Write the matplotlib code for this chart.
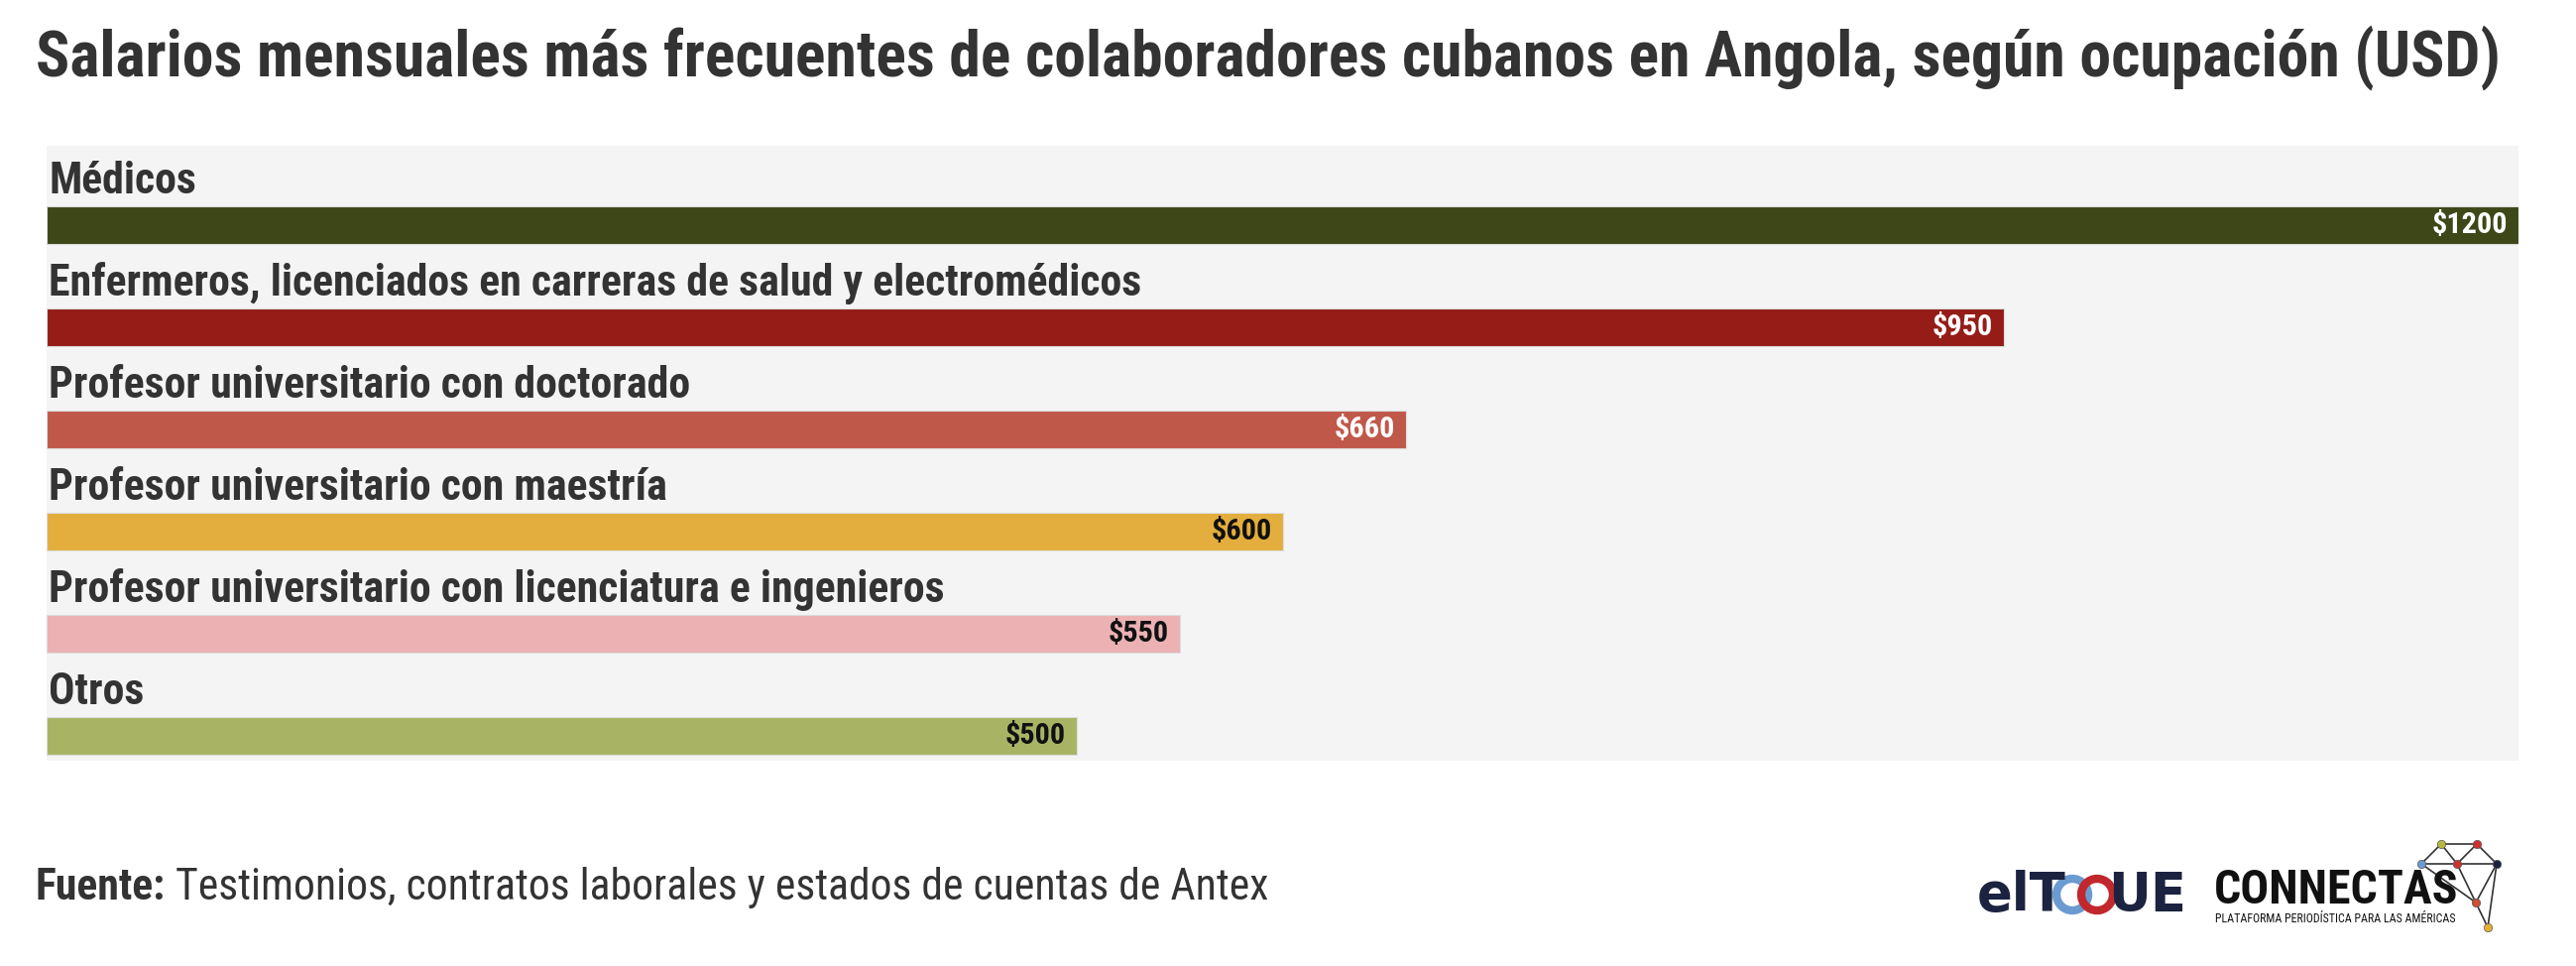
import matplotlib
matplotlib.use("Agg")
import matplotlib.pyplot as plt
from matplotlib import font_manager
from matplotlib.patches import Circle

# pick a condensed family if one is installed
available = {f.name for f in font_manager.fontManager.ttflist}
narrow = "Roboto"
for name in ["Roboto Condensed", "Liberation Sans Narrow", "DejaVu Sans Condensed"]:
    if name in available:
        narrow = name
        break

categories = [
    "Médicos",
    "Enfermeros, licenciados en carreras de salud y electromédicos",
    "Profesor universitario con doctorado",
    "Profesor universitario con maestría",
    "Profesor universitario con licenciatura e ingenieros",
    "Otros",
]
salaries = [1200, 950, 660, 600, 550, 500]
value_labels = ["$1200", "$950", "$660", "$600", "$550", "$500"]
bar_colors = ["#3d4718", "#951c17", "#c0584a", "#e3ae3d", "#ebb1b3", "#a8b464"]
value_colors = ["white", "white", "white", "#111111", "#111111", "#111111"]

title = "Salarios mensuales más frecuentes de colaboradores cubanos en Angola, según ocupación (USD)"
TXT = "#333333"

W, H = 2598, 974
fig = plt.figure(figsize=(W / 100, H / 100), dpi=100)
fig.patch.set_facecolor("white")

fig.text(36 / W, 1 - 58 / H, title, fontsize=45.8, fontweight="bold", family=narrow,
         color=TXT, ha="left", va="center")

ax = fig.add_axes([47 / W, 1 - 767 / H, (2540 - 47) / W, (767 - 147) / H])
ax.set_facecolor("#f4f4f4")
ypos = list(range(len(categories)))
ax.barh(ypos, salaries, height=0.36, color=bar_colors, edgecolor="#dddddd", linewidth=0.8)
for i, (cat, val, lab, vc) in enumerate(zip(categories, salaries, value_labels, value_colors)):
    ax.text(1, i - 0.43, cat, fontsize=31.6, fontweight="bold", family=narrow,
            color=TXT, ha="left", va="center")
    ax.annotate(lab, (val, i), xytext=(-8, 0), textcoords="offset points",
                fontsize=21.8, fontweight="bold", family=narrow, color=vc,
                ha="right", va="center")
ax.set_xlim(0, 1200)
ax.set_ylim(5.243, -0.777)
ax.set_xticks([])
ax.set_yticks([])
for s in ax.spines.values():
    s.set_visible(False)

# footer
src = fig.text(36 / W, 1 - 895 / H, "Fuente:", fontsize=31.5, fontweight="bold", family=narrow,
               color=TXT, ha="left", va="center")
plt.annotate(" Testimonios, contratos laborales y estados de cuentas de Antex",
             xy=(1, 0.5), xycoords=src, fontsize=31.5, family=narrow, color=TXT,
             ha="left", va="center", annotation_clip=False)

# logos (drawn in pixel units)
lg = fig.add_axes([1960 / W, 0, 638 / W, 140 / H])
lg.set_xlim(1960, 2598)
lg.set_ylim(974, 834)
lg.axis("off")
navy = "#1b2340"
lg.text(1994, 903, "elT", fontsize=38, fontweight="bold", family="DejaVu Sans",
        color=navy, ha="left", va="center")
lg.add_patch(Circle((2090, 902), 16, fill=False, lw=6, ec="#6b9bd1"))
lg.add_patch(Circle((2115, 902), 16, fill=False, lw=6, ec="#c0282d"))
lg.text(2205, 903, "UE", fontsize=38, fontweight="bold", family="DejaVu Sans",
        color=navy, ha="right", va="center")
lg.text(2233, 898, "CONNECTAS", fontsize=34.5, fontweight="bold", family=narrow,
        color="#111111", ha="left", va="center")
lg.text(2234, 926, "PLATAFORMA PERIODÍSTICA PARA LAS AMÉRICAS", fontsize=8.6,
        family=narrow, color="#111111", ha="left", va="center")
nodes = {"a": (2462, 851), "b": (2498, 851), "c": (2442, 871), "d": (2478, 871),
         "e": (2518, 871), "f": (2497, 910), "g": (2509, 935)}
node_cols = {"a": "#b8b840", "b": "#d03030", "c": "#6b9bd1", "d": "#d03030",
             "e": "#1b2340", "f": "#d05030", "g": "#e8b030"}
edges = [("a", "b"), ("a", "c"), ("a", "d"), ("b", "d"), ("b", "e"), ("c", "e"),
         ("d", "g"), ("e", "f"), ("e", "g"), ("c", "f")]
for p, q in edges:
    lg.plot([nodes[p][0], nodes[q][0]], [nodes[p][1], nodes[q][1]], color="#333333", lw=1.2)
for k, (x, y) in nodes.items():
    lg.plot(x, y, "o", ms=6, color=node_cols[k], mec="#555555", mew=0.5)

fig.savefig("out.png", dpi=100)
